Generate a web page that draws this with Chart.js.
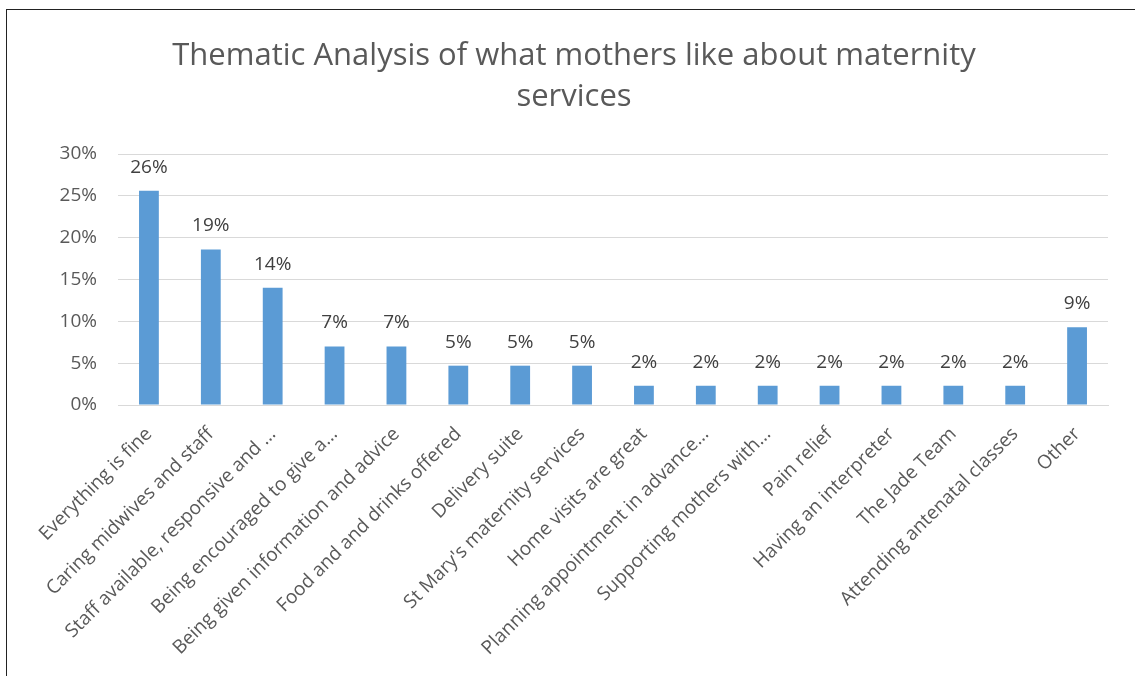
<!DOCTYPE html>
<html>
<head>
<meta charset="utf-8">
<script src="https://cdn.jsdelivr.net/npm/chart.js@4/dist/chart.umd.min.js"></script>
<style>
  html, body { margin: 0; padding: 0; background: #fff; overflow: hidden; }
  #frame {
    position: absolute; left: 6px; top: 9px;
    width: 1140px; height: 700px;
    border-left: 1.5px solid #222; border-top: 1.5px solid #222;
  }
  #wrap { position: absolute; left: 7px; top: 10px; width: 1128px; height: 666px; }
</style>
</head>
<body>
<div id="frame"></div>
<div id="wrap"><canvas id="themes"></canvas></div>
<script>
const titleLines = ['Thematic Analysis of what mothers like about maternity', 'services'];

const themes = [
  'Everything is fine',
  'Caring midwives and staff',
  'Staff available, responsive and ...',
  'Being encouraged to give a...',
  'Being given information and advice',
  'Food and and drinks offered',
  'Delivery suite',
  "St Mary's maternity services",
  'Home visits are great',
  'Planning appointment in advance...',
  'Supporting mothers with...',
  'Pain relief',
  'Having an interpreter',
  'The Jade Team',
  'Attending antenatal classes',
  'Other'
];

// share of mothers mentioning each theme, in percent
const shares = [25.6, 18.6, 14.0, 7.0, 7.0, 4.7, 4.7, 4.7, 2.3, 2.3, 2.3, 2.3, 2.3, 2.3, 2.3, 9.3];

const yTicks = [0, 5, 10, 15, 20, 25, 30];

const textGrey = '#595959';
const fontFamily = '"Open Sans", sans-serif';

// two-line title, centred on the whole chart box
const chartTitle = {
  id: 'chartTitle',
  afterDraw(chart) {
    const ctx = chart.ctx;
    ctx.save();
    ctx.fillStyle = textGrey;
    ctx.font = '31px ' + fontFamily;
    ctx.textAlign = 'center';
    ctx.textBaseline = 'alphabetic';
    titleLines.forEach(function (line, i) {
      ctx.fillText(line, 567, 55 + i * 41);
    });
    ctx.restore();
  }
};

// percent labels above each bar
const valueLabels = {
  id: 'valueLabels',
  afterDatasetsDraw(chart) {
    const ctx = chart.ctx;
    const meta = chart.getDatasetMeta(0);
    ctx.save();
    ctx.fillStyle = '#404040';
    ctx.font = '19px ' + fontFamily;
    ctx.textAlign = 'center';
    ctx.textBaseline = 'alphabetic';
    meta.data.forEach(function (bar, i) {
      ctx.fillText(Math.round(shares[i]) + '%', bar.x, bar.y - 18);
    });
    ctx.restore();
  }
};

const ctx = document.getElementById('themes');
new Chart(ctx, {
  type: 'bar',
  data: {
    labels: themes,
    datasets: [{
      data: shares,
      backgroundColor: '#5b9bd5',
      borderWidth: 0,
      barPercentage: 0.32,
      categoryPercentage: 1.0
    }]
  },
  options: {
    responsive: true,
    maintainAspectRatio: false,
    animation: false,
    layout: { padding: { left: 0, right: 27, top: 144, bottom: 0 } },
    plugins: {
      legend: { display: false },
      tooltip: { enabled: false },
      title: { display: false }
    },
    scales: {
      x: {
        grid: { display: false, drawTicks: false },
        border: { display: true, color: '#d9d9d9', width: 1 },
        ticks: {
          color: textGrey,
          font: { family: fontFamily, size: 19 },
          minRotation: 45,
          maxRotation: 45,
          autoSkip: false,
          padding: 18
        },
        afterFit: function (scale) { scale.height = 271; }
      },
      y: {
        min: 0,
        max: 30,
        afterBuildTicks: function (scale) {
          scale.ticks = yTicks.map(function (v) { return { value: v }; });
        },
        grid: { color: '#d9d9d9', drawTicks: false, lineWidth: 1 },
        border: { display: false },
        ticks: {
          color: textGrey,
          font: { family: fontFamily, size: 19 },
          padding: 21,
          callback: function (v) { return v + '%'; }
        },
        afterFit: function (scale) { scale.width = 111; }
      }
    }
  },
  plugins: [valueLabels, chartTitle]
});
</script>
</body>
</html>
